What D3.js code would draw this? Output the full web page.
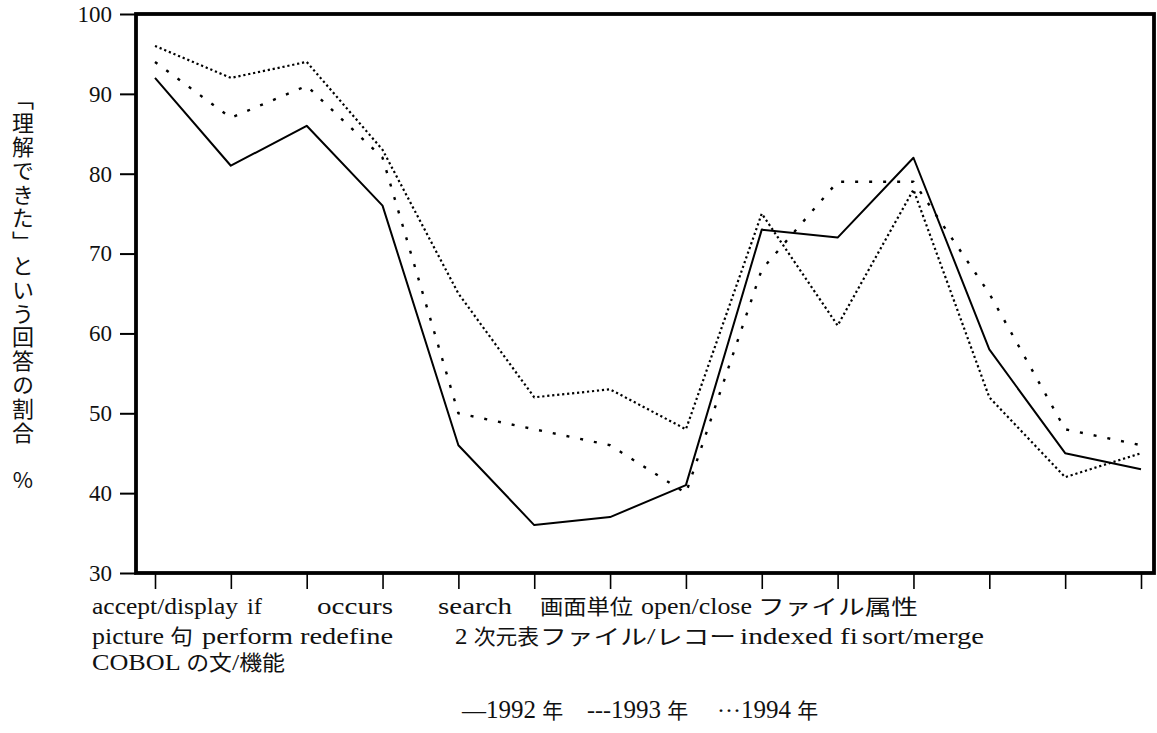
<!DOCTYPE html>
<html><head><meta charset="utf-8">
<script src="https://cdn.jsdelivr.net/npm/d3@7"></script>
<style>
html,body{margin:0;padding:0;background:#fff;}
svg{display:block;}
</style></head><body>
<svg id="chart" width="1157" height="733"></svg>
<script>
// ---- data ----
const categories = ["accept/display","picture 句","if","perform","occurs","redefine","search","2 次元表","画面単位","ファイル/レコー","open/close","indexed fi","ファイル属性","sort/merge"];
const years = ["1992 年","1993 年","1994 年"];
const values1992 = [92,81,86,76,46,36,37,41,73,72,82,58,45,43];
const values1993 = [94,87,91,82,50,48,46,40,68,79,79,65,48,46];
const values1994 = [96,92,94,83,65,52,53,48,75,61,78,52,42,45];
const yTicks = [30,40,50,60,70,80,90,100];
const yTitle = "「理解できた」という回答の割合 %";
const xTitle = "COBOL の文/機能";
const legendMarks = ["—","---","···"];

// ---- layout ----
const svg = d3.select("#chart");
const L = 136, R = 1154, T = 14, B = 573;
const SERIF = "'Liberation Serif','Times New Roman',serif";
const CJK = "'Noto Sans CJK JP',sans-serif";
const x = d3.scalePoint().domain(d3.range(categories.length)).range([155, 1141]);
const y = d3.scaleLinear().domain([30, 100]).range([B, T]);

const cjkRe = /([\u3000-\u30ff\u4e00-\u9fff\uff00-\uffef]+)/;
function runs(sel, str, latinSize, cjkSize) {
  str.split(cjkRe).filter(s => s.length).forEach(s => {
    const isC = cjkRe.test(s);
    sel.append("tspan").text(s)
      .style("font-family", isC ? CJK : SERIF)
      .style("font-size", (isC ? cjkSize : latinSize) + "px");
  });
}

// y axis
const gy = svg.append("g").attr("transform", `translate(${L},0)`)
  .call(d3.axisLeft(y).tickValues(yTicks).tickSize(16).tickPadding(8).tickSizeOuter(0));
gy.attr("font-family", null).attr("font-size", null);
gy.select(".domain").remove();
gy.selectAll(".tick line").attr("stroke", "#000").attr("stroke-width", 2);
gy.selectAll(".tick text").style("font-family", SERIF).style("font-size", "23px").attr("fill", "#111");

// x axis (ticks only)
const gx = svg.append("g").attr("transform", `translate(0,${B})`)
  .call(d3.axisBottom(x).tickSize(16).tickFormat("").tickSizeOuter(0));
gx.select(".domain").remove();
gx.selectAll(".tick line").attr("stroke", "#000").attr("stroke-width", 1.6);

// frame
svg.append("rect").attr("x", L).attr("y", T).attr("width", R - L).attr("height", B - T)
  .attr("fill", "none").attr("stroke", "#000").attr("stroke-width", 3.8);

// lines
const line = d3.line().x((d, i) => x(i)).y(d => y(d));
const series = [
  {v: values1992, dash: null, w: 2},
  {v: values1993, dash: "3,11", w: 2.4},
  {v: values1994, dash: "2.2,2.8", w: 2.2}
];
svg.append("g").selectAll("path").data(series).join("path")
  .attr("d", d => line(d.v)).attr("fill", "none").attr("stroke", "#000")
  .attr("stroke-width", d => d.w).attr("stroke-dasharray", d => d.dash)
  .attr("stroke-linejoin", "round");

// x category labels (flowed in two rows as in the original)
const labelX = [92, 92, 247, 202, 317, 300, 438, 455, 540, 540, 641, 740, 758, 862];
const labelW = [146, 101, 15, 91, 76, 93, 74, 84, 93, 196, 111, 118, 160, 122];
const rowY = [614, 644];
categories.forEach((c, i) => {
  const t = svg.append("text").attr("x", labelX[i]).attr("y", rowY[i % 2]).attr("fill", "#111")
    .attr("textLength", labelW[i]).attr("lengthAdjust", "spacingAndGlyphs");
  runs(t, c, 24, 21);
});
// x title
const xt = svg.append("text").attr("x", 92).attr("y", 670).attr("fill", "#111")
  .attr("textLength", 193).attr("lengthAdjust", "spacingAndGlyphs");
runs(xt, xTitle, 24, 21);

// y title (vertical)
svg.append("text").attr("x", 23).attr("y", 88)
  .style("writing-mode", "vertical-rl").style("text-orientation", "upright")
  .style("letter-spacing", "1.8px")
  .style("font-family", CJK).style("font-size", "22px").attr("fill", "#111")
  .text(yTitle);

// legend
const legX = [462, 587, 717];
years.forEach((yr, i) => {
  const t = svg.append("text").attr("x", legX[i]).attr("y", 718).attr("fill", "#111");
  t.append("tspan").text(legendMarks[i]).style("font-family", SERIF).style("font-size", "24px");
  runs(t, yr, 25, 21);
});
</script>
</body></html>
